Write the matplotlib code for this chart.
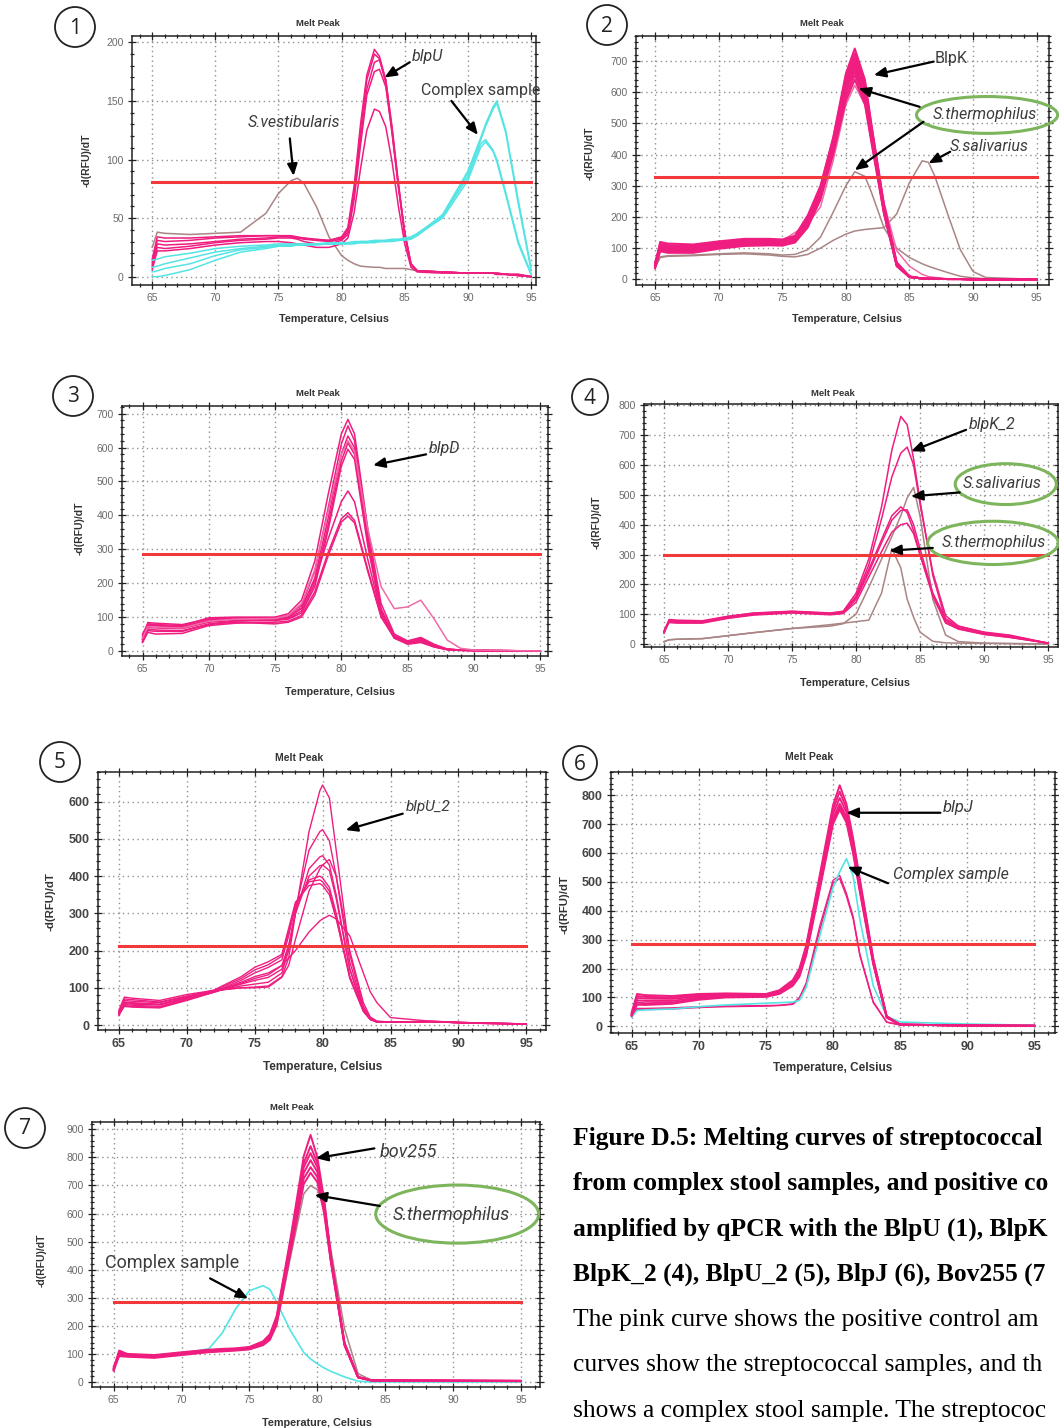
import matplotlib
matplotlib.use("Agg")
import matplotlib.pyplot as plt
from matplotlib.patches import Ellipse, Circle
from matplotlib.ticker import MultipleLocator

# ---------------- panel 1 : BlpU ----------------
t1 = [65, 65.4, 66, 68, 70, 72, 74, 75, 76, 76.5, 77, 78, 79, 80, 80.5, 81, 81.5, 82, 82.6, 83,
      83.5, 84, 84.5, 85, 85.5, 86, 88, 90, 91, 91.4, 92, 92.3, 93, 94, 95]
p1_blpu = [
    [15, 34, 33, 33, 34, 35, 35, 35, 34, 33, 33, 31, 31, 34, 42, 78, 130, 172, 194, 188, 168, 125, 78, 38, 11, 5, 4, 3, 3, 3, 3, 3, 2, 2, 0],
    [12, 31, 30, 31, 33, 34, 35, 35, 35, 34, 33, 32, 31, 33, 40, 74, 125, 168, 190, 186, 165, 122, 76, 36, 10, 5, 4, 3, 3, 3, 3, 3, 2, 2, 0],
    [10, 28, 27, 28, 30, 32, 33, 34, 34, 33, 32, 31, 30, 32, 38, 70, 118, 160, 183, 185, 168, 128, 80, 38, 11, 5, 4, 3, 3, 3, 3, 2, 2, 1, 0],
    [8, 25, 24, 26, 29, 31, 32, 33, 33, 32, 30, 28, 28, 31, 36, 66, 112, 155, 175, 177, 162, 124, 78, 36, 10, 5, 4, 3, 3, 3, 3, 2, 2, 1, 0],
    [6, 22, 22, 24, 27, 29, 30, 30, 29, 28, 27, 25, 25, 28, 33, 55, 92, 125, 143, 141, 128, 98, 60, 28, 8, 4, 3, 3, 3, 3, 3, 2, 2, 1, 0],
]
p1_vest = [25, 38, 37, 36, 37, 38, 54, 71, 82, 84, 80, 60, 34, 18, 14, 11, 9, 8.5, 8, 8, 7, 7, 7, 7, 6, 5, 4, 3, 3, 3, 3, 3, 2, 1, 0]
p1_complex = [
    [14, 15, 17, 20, 24, 26, 27, 28, 28, 28, 28, 28, 29, 29, 29, 30, 30, 30, 31, 31, 31, 32, 32, 33, 34, 37, 52, 85, 113, 117, 108, 100, 72, 30, 3],
    [8, 9, 11, 16, 21, 24, 26, 27, 27, 27, 28, 28, 28, 29, 29, 29, 30, 30, 30, 30, 31, 31, 31, 32, 33, 36, 50, 82, 110, 115, 107, 98, 70, 28, 2],
    [4, 5, 7, 11, 18, 23, 25, 26, 27, 27, 27, 28, 28, 28, 28, 29, 29, 29, 30, 30, 30, 31, 31, 32, 33, 36, 53, 90, 118, 130, 145, 150, 125, 65, 8],
    [0, 0, 1, 6, 14, 21, 24, 26, 26, 27, 27, 27, 28, 28, 28, 28, 29, 29, 29, 30, 30, 30, 31, 31, 32, 35, 51, 88, 116, 128, 143, 148, 123, 62, 6],
]
p1_thr = 80.8

# ---------------- panel 2 : BlpK ----------------
t2 = [65, 65.4, 66, 68, 70, 72, 74, 75, 76, 77, 78, 79, 80, 80.7, 81.5, 82, 83, 84, 85, 86,
      86.5, 87, 88, 89, 90, 91, 95]
p2_blpk = [
    [45, 120, 115, 112, 122, 130, 130, 128, 140, 205, 300, 455, 660, 740, 640, 500, 240, 55, 10, 3, 2, 2, 1, 1, 0, 0, 0],
    [50, 115, 110, 108, 118, 126, 127, 125, 136, 200, 295, 450, 650, 725, 630, 495, 235, 52, 9, 3, 2, 2, 1, 1, 0, 0, 0],
    [40, 110, 106, 104, 115, 123, 124, 122, 133, 195, 290, 445, 640, 712, 620, 485, 230, 50, 9, 3, 2, 2, 1, 1, 0, 0, 0],
    [55, 108, 102, 100, 112, 120, 122, 120, 130, 190, 285, 440, 630, 700, 612, 480, 225, 48, 8, 3, 2, 2, 1, 1, 0, 0, 0],
    [42, 104, 99, 97, 110, 118, 120, 118, 128, 186, 280, 432, 620, 690, 600, 470, 222, 46, 8, 3, 2, 2, 1, 1, 0, 0, 0],
    [48, 100, 95, 94, 107, 115, 117, 116, 125, 180, 272, 425, 610, 680, 590, 462, 218, 45, 8, 3, 2, 2, 1, 1, 0, 0, 0],
    [38, 96, 92, 91, 104, 112, 114, 113, 122, 176, 268, 418, 598, 668, 580, 455, 215, 44, 7, 3, 2, 2, 1, 1, 0, 0, 0],
    [44, 92, 88, 88, 101, 110, 112, 111, 120, 170, 262, 410, 585, 655, 570, 448, 212, 43, 7, 3, 2, 2, 1, 1, 0, 0, 0],
    [35, 90, 85, 85, 98, 107, 109, 108, 118, 166, 255, 400, 572, 640, 560, 440, 208, 42, 7, 3, 2, 2, 1, 1, 0, 0, 0],
]
p2_therm_a = [50, 100, 98, 100, 110, 118, 120, 125, 150, 178, 232, 380, 560, 622, 560, 450, 245, 92, 42, 16, 9, 6, 2, 1, 0, 0, 0]
p2_therm_b = [40, 72, 76, 78, 82, 85, 82, 78, 80, 95, 135, 215, 300, 345, 330, 280, 165, 100, 70, 50, 42, 35, 22, 10, 5, 2, 0]
p2_saliv = [38, 70, 74, 76, 80, 82, 78, 74, 72, 80, 100, 125, 145, 155, 160, 162, 166, 210, 310, 380, 375, 330, 210, 95, 25, 6, 0]
p2_thr = 327

# ---------------- panel 3 : BlpD ----------------
t3 = [65, 65.4, 66, 68, 70, 72, 75, 76, 77, 78, 79, 80, 80.5, 81, 82, 83, 84, 85, 86, 87, 88, 89, 90, 95]
p3_blpd = [
    [30, 80, 78, 75, 98, 100, 100, 110, 150, 265, 460, 640, 683, 640, 360, 140, 50, 30, 40, 20, 6, 3, 2, 0],
    [35, 84, 82, 78, 95, 98, 98, 105, 135, 235, 420, 610, 664, 620, 340, 125, 45, 28, 38, 18, 5, 3, 2, 0],
    [40, 76, 74, 70, 90, 95, 96, 100, 125, 215, 390, 580, 634, 600, 330, 120, 42, 25, 35, 16, 5, 3, 2, 0],
    [45, 70, 68, 66, 85, 90, 92, 96, 118, 200, 370, 560, 614, 580, 320, 115, 40, 24, 30, 14, 4, 3, 2, 0],
    [28, 65, 62, 60, 80, 88, 90, 94, 112, 190, 355, 545, 595, 565, 310, 112, 38, 22, 28, 12, 4, 2, 1, 0],
    [50, 80, 76, 72, 92, 96, 95, 100, 128, 210, 330, 440, 472, 440, 270, 110, 45, 25, 32, 15, 5, 3, 2, 0],
    [25, 55, 50, 52, 75, 82, 85, 88, 105, 175, 290, 390, 408, 385, 240, 105, 40, 22, 30, 14, 5, 2, 1, 0],
    [35, 60, 58, 58, 78, 85, 80, 85, 100, 165, 280, 380, 398, 378, 235, 100, 38, 20, 25, 12, 4, 2, 1, 0],
    [38, 72, 70, 68, 88, 94, 96, 105, 140, 240, 410, 580, 620, 590, 360, 190, 125, 130, 150, 95, 32, 8, 3, 0],
]
p3_thr = 287

# ---------------- panel 4 : BlpK_2 ----------------
t4 = [65, 65.4, 66, 68, 70, 72, 75, 78, 79, 80, 81, 82, 82.8, 83.5, 84, 84.5, 85, 86, 87, 88, 90, 92, 95]
p4_blpk2 = [
    [40, 82, 80, 78, 93, 104, 110, 104, 110, 170, 285, 460, 650, 763, 735, 620, 480, 230, 80, 55, 35, 25, 3],
    [38, 78, 76, 74, 90, 100, 108, 102, 106, 160, 265, 420, 560, 640, 660, 600, 470, 240, 95, 60, 38, 28, 3],
    [42, 80, 78, 76, 92, 103, 109, 103, 108, 155, 250, 350, 430, 460, 440, 380, 300, 160, 70, 50, 32, 22, 3],
    [36, 75, 73, 72, 88, 99, 106, 100, 104, 150, 240, 340, 415, 448, 450, 400, 320, 170, 75, 52, 33, 23, 3],
    [44, 72, 70, 70, 86, 97, 104, 98, 102, 140, 225, 310, 375, 400, 405, 370, 300, 170, 85, 60, 40, 30, 3],
]
p4_saliv = [8, 14, 16, 18, 28, 38, 52, 60, 68, 100, 190, 285, 360, 430, 490, 525, 430, 150, 30, 8, 3, 2, 0]
p4_therm = [8, 14, 16, 18, 28, 38, 52, 65, 70, 75, 80, 171, 320, 255, 150, 90, 40, 9, 4, 3, 2, 1, 0]
p4_thr = 297

# ---------------- panel 5 : BlpU_2 ----------------
t5 = [65, 65.4, 66, 68, 70, 72, 74, 75, 76, 77, 77.5, 78, 79, 79.8, 80, 80.5, 81, 82, 83, 83.5,
      84, 85, 88, 91, 95]
p5_blpu2 = [
    [30, 70, 68, 62, 78, 92, 100, 102, 105, 130, 180, 300, 520, 630, 645, 610, 470, 190, 50, 20, 10, 8, 10, 6, 3],
    [35, 62, 60, 56, 74, 90, 105, 110, 115, 140, 200, 310, 470, 520, 525, 495, 400, 170, 45, 18, 9, 8, 10, 6, 3],
    [25, 55, 53, 50, 70, 88, 110, 120, 128, 150, 210, 300, 420, 452, 455, 430, 350, 150, 40, 16, 8, 8, 9, 5, 3],
    [40, 75, 72, 66, 82, 93, 100, 100, 102, 128, 160, 230, 360, 420, 430, 445, 400, 200, 60, 22, 10, 8, 9, 5, 2],
    [32, 60, 58, 55, 73, 91, 112, 125, 135, 160, 215, 300, 400, 428, 430, 415, 340, 150, 42, 16, 8, 8, 9, 5, 3],
    [28, 52, 50, 48, 68, 89, 120, 140, 155, 175, 240, 320, 390, 400, 395, 370, 300, 130, 38, 15, 8, 8, 9, 5, 3],
    [38, 58, 56, 54, 72, 92, 125, 148, 162, 185, 250, 325, 385, 390, 385, 360, 290, 125, 36, 15, 8, 8, 9, 5, 3],
    [34, 66, 64, 60, 76, 94, 130, 155, 170, 190, 260, 330, 375, 380, 375, 350, 285, 130, 40, 16, 8, 8, 9, 5, 3],
    [30, 50, 48, 46, 66, 88, 115, 130, 140, 160, 180, 200, 250, 280, 285, 295, 285, 240, 140, 90, 60, 20, 10, 6, 3],
]
p5_thr = 213

# ---------------- panel 6 : BlpJ ----------------
t6 = [65, 65.4, 66, 68, 70, 72, 75, 76, 77, 77.5, 78, 79, 80, 80.5, 81, 81.5, 82, 83, 84, 85, 90, 95]
p6_blpj = [
    [48, 112, 108, 105, 112, 114, 112, 125, 160, 200, 280, 520, 765, 834, 770, 650, 510, 235, 35, 6, 3, 2],
    [45, 105, 102, 100, 108, 112, 110, 122, 155, 195, 272, 510, 750, 812, 755, 640, 500, 230, 34, 6, 3, 2],
    [42, 98, 96, 95, 104, 108, 108, 120, 150, 188, 265, 500, 735, 790, 740, 628, 490, 225, 33, 6, 3, 2],
    [40, 90, 88, 88, 100, 106, 106, 118, 148, 182, 258, 490, 720, 770, 725, 615, 480, 220, 32, 6, 3, 2],
    [38, 82, 80, 82, 96, 103, 104, 115, 145, 178, 250, 480, 710, 760, 715, 605, 472, 218, 31, 6, 3, 2],
    [36, 75, 74, 78, 92, 100, 102, 112, 140, 172, 245, 470, 700, 750, 705, 598, 465, 215, 30, 6, 3, 2],
]
p6_low = [
    [40, 62, 62, 64, 68, 70, 72, 73, 78, 100, 150, 345, 505, 522, 460, 380, 250, 85, 15, 5, 2, 1],
    [38, 58, 58, 60, 65, 68, 70, 72, 76, 95, 140, 330, 495, 512, 450, 372, 245, 82, 14, 5, 2, 1],
]
p6_complex = [32, 55, 57, 60, 68, 74, 80, 82, 84, 90, 135, 310, 480, 535, 580, 520, 370, 140, 35, 15, 8, 4]
p6_thr = 284

# ---------------- panel 7 : Bov255 ----------------
t7 = [65, 65.4, 66, 68, 70, 72, 73, 74, 75, 76, 76.5, 77, 78, 79, 79.5, 80, 80.5, 81, 82, 83, 84, 95]
p7_bov = [
    [45, 112, 100, 96, 106, 115, 118, 120, 125, 145, 170, 235, 505, 805, 880, 800, 650, 450, 140, 18, 6, 4],
    [50, 108, 98, 94, 104, 113, 116, 118, 123, 142, 165, 228, 495, 780, 840, 780, 640, 445, 138, 18, 6, 4],
    [42, 104, 96, 92, 102, 112, 114, 117, 122, 140, 162, 222, 485, 765, 815, 765, 630, 440, 136, 17, 6, 4],
    [55, 100, 94, 90, 100, 110, 113, 116, 120, 138, 158, 218, 475, 745, 790, 748, 620, 435, 134, 17, 6, 4],
    [40, 96, 92, 88, 98, 108, 111, 114, 118, 135, 155, 212, 465, 725, 765, 730, 610, 430, 132, 16, 5, 3],
    [48, 92, 90, 86, 96, 106, 109, 112, 116, 132, 150, 205, 455, 705, 745, 712, 600, 425, 130, 16, 5, 3],
]
p7_therm = [45, 98, 93, 90, 99, 108, 111, 114, 117, 130, 150, 200, 440, 670, 700, 685, 620, 470, 190, 30, 6, 3]
p7_complex = [45, 100, 95, 92, 102, 118, 175, 262, 325, 343, 330, 285, 185, 105, 82, 65, 50, 38, 18, 3, 0, 0]
p7_thr = 285

caption = [
    ("Figure D.5: Melting curves of streptococcal", "bold"),
    ("from complex stool samples, and positive co", "bold"),
    ("amplified by qPCR with the BlpU (1), BlpK", "bold"),
    ("BlpK_2 (4), BlpU_2 (5), BlpJ (6), Bov255 (7", "bold"),
    ("The pink curve shows the positive control am", "normal"),
    ("curves show the streptococcal samples, and th", "normal"),
    ("shows a complex stool sample. The streptococ", "normal"),
]

PINK = "#ef1d80"
LPINK = "#f06aa8"
BROWN = "#a98585"
CYAN = "#55e4e4"
RED = "#f2383a"
GREEN = "#7db55c"

W, H = 1059, 1428
fig = plt.figure(figsize=(W / 100, H / 100), dpi=100)
fig.patch.set_facecolor("white")


def P(x, y):
    return (x / 100.0, (H - y) / 100.0)


def ftext(x, y, s, **kw):
    fig.text(*P(x, y), s, transform=fig.dpi_scale_trans, **kw)


def panel(box, xlim, ylim, ystep, big=False):
    l, t, r, b = box
    ax = fig.add_axes([l / W, 1 - b / H, (r - l) / W, (b - t) / H])
    ax.set_xlim(xlim)
    ax.set_ylim(ylim)
    ax.xaxis.set_major_locator(MultipleLocator(5))
    ax.xaxis.set_minor_locator(MultipleLocator(1))
    ax.yaxis.set_major_locator(MultipleLocator(ystep))
    ax.yaxis.set_minor_locator(MultipleLocator(ystep / 5))
    ax.set_axisbelow(True)
    ax.grid(True, which="major", ls=(0, (1, 2.5)), color="#909090", lw=1.0)
    ax.tick_params(which="both", direction="inout", top=True, right=True,
                   width=0.9, color="#222222")
    ax.tick_params(which="major", length=6)
    ax.tick_params(which="minor", length=3.5)
    ax.tick_params(labelsize=9 if big else 7.5, labelcolor="#444444" if big else "#6a6a6a", pad=3)
    for lab in ax.get_xticklabels() + ax.get_yticklabels():
        lab.set_family("Liberation Sans")
        if big:
            lab.set_fontweight("bold")
    for s in ax.spines.values():
        s.set_linewidth(1.1)
        s.set_color("#222222")
    return ax


def lines(ax, t, ys, color, lw=1.1, z=2, alpha=1.0):
    for y in ys:
        ax.plot(t, y, color=color, lw=lw, zorder=z, alpha=alpha)


def thr(ax, t, value):
    ax.plot([t[0], t[-1]], [value, value], color=RED, lw=2.2, zorder=5)


def label(ax, x, y, s, size, italic=True):
    ax.text(x, y, s, ha="center", va="center", fontsize=size, family="Roboto",
            style="italic" if italic else "normal", color="#3c3c3c", zorder=8, clip_on=False)


def arrow(ax, tail, tip):
    ax.annotate("", xy=tip, xytext=tail, annotation_clip=False, zorder=9,
                arrowprops=dict(arrowstyle="-|>,head_length=0.7,head_width=0.3",
                                color="black", lw=1.6, shrinkA=0, shrinkB=0))


def oval(ax, x, y, w, h):
    ax.add_patch(Ellipse((x, y), w, h, fill=False, ec=GREEN, lw=2.2, zorder=7, clip_on=False))


def badge(x, y, r, s):
    fig.add_artist(Circle(P(x, y), r / 100.0, transform=fig.dpi_scale_trans,
                          fill=False, ec="#222222", lw=1.3))
    ftext(x, y + 1, s, ha="center", va="center", fontsize=15, family="Open Sans", color="#222222")


def decorate(title_xy, xlab_xy, ylab_xy, big=False):
    fs = 7.5 if big else 6.8
    ftext(*title_xy, "Melt Peak", ha="center", va="center", fontsize=fs, fontweight="bold",
          family="Liberation Sans", color="#333333")
    ftext(*xlab_xy, "Temperature, Celsius", ha="center", va="center", fontsize=fs + 1,
          fontweight="bold", family="Liberation Sans", color="#333333")
    ftext(*ylab_xy, "-d(RFU)/dT", ha="center", va="center", rotation=90, fontsize=fs + 0.7,
          fontweight="bold", family="Liberation Sans", color="#333333")


# ---- panel 1
ax = panel((132, 36, 536, 285), (63.4, 95.4), (-7.1, 205.4), 50)
ax.plot(t1, p1_vest, color=BROWN, lw=1.1, zorder=2)
lines(ax, t1, p1_blpu, PINK, z=3)
lines(ax, t1, p1_complex, CYAN, z=4)
thr(ax, t1, p1_thr)
label(ax, 86.8, 188, "blpU", 11.5)
arrow(ax, (85.4, 183), (83.4, 170))
label(ax, 76.2, 132, "S.vestibularis", 11.5)
arrow(ax, (75.9, 118), (76.2, 86))
label(ax, 91.0, 159, "Complex sample", 11.5, italic=False)
arrow(ax, (88.7, 150), (90.8, 121))
badge(75, 27, 20, "1")
decorate((318, 24), (334, 319), (87, 160))

# ---- panel 2
ax = panel((636, 36, 1049, 285), (63.5, 95.97), (-18, 780), 100)
ax.plot(t2, p2_saliv, color=BROWN, lw=1.1, zorder=2)
ax.plot(t2, p2_therm_b, color=BROWN, lw=1.1, zorder=2)
ax.plot(t2, p2_therm_a, color=LPINK, lw=1.1, zorder=2)
lines(ax, t2, p2_blpk, PINK, lw=1.4, z=3)
thr(ax, t2, p2_thr)
label(ax, 88.3, 708, "BlpK", 11.5, italic=False)
arrow(ax, (86.9, 698), (82.2, 655))
oval(ax, 91.1, 527, 11.1, 118)
label(ax, 90.9, 527, "S.thermophilus", 11.5)
arrow(ax, (85.8, 553), (81.0, 612))
arrow(ax, (86.1, 505), (80.7, 350))
label(ax, 91.3, 425, "S.salivarius", 11.5)
arrow(ax, (88.2, 409), (86.5, 372))
badge(607, 25, 20, "2")
decorate((822, 24), (847, 319), (590, 153))

# ---- panel 3
ax = panel((122, 406, 548, 656), (63.45, 95.6), (-14.7, 722.6), 100)
lines(ax, t3, p3_blpd[:-1], PINK, z=3)
ax.plot(t3, p3_blpd[-1], color=LPINK, lw=1.1, zorder=3)
thr(ax, t3, p3_thr)
label(ax, 87.8, 597, "blpD", 11.5)
arrow(ax, (86.4, 580), (82.4, 548))
badge(73, 396, 20, "3")
decorate((318, 394), (340, 692), (80, 528))

# ---- panel 4
ax = panel((644, 404, 1058, 647), (63.44, 95.78), (-10, 804.5), 100)
ax.plot(t4, p4_saliv, color=BROWN, lw=1.1, zorder=2)
ax.plot(t4, p4_therm, color=BROWN, lw=1.1, zorder=2)
lines(ax, t4, p4_blpk2, PINK, z=3)
thr(ax, t4, p4_thr)
label(ax, 90.6, 735, "blpK_2", 11.5)
arrow(ax, (88.6, 718), (84.3, 646))
oval(ax, 91.7, 536, 7.9, 137)
label(ax, 91.4, 537, "S.salivarius", 11.5)
arrow(ax, (88.1, 508), (84.3, 495))
oval(ax, 90.7, 339, 10.2, 145)
label(ax, 90.8, 339, "S.thermophilus", 11.5)
arrow(ax, (86.0, 322), (82.6, 313))
badge(590, 397, 18, "4")
decorate((833, 393), (855, 683), (597, 522))

# ---- panel 5
ax = panel((98, 772, 546, 1030), (63.46, 96.45), (-13.4, 680), 100, big=True)
lines(ax, t5, p5_blpu2, PINK, lw=1.0, z=3)
thr(ax, t5, p5_thr)
label(ax, 87.8, 585, "blpU_2", 11)
arrow(ax, (85.9, 568), (81.7, 524))
badge(60, 762, 20, "5")
decorate((299, 758), (323, 1067), (50, 902), big=True)

# ---- panel 6
ax = panel((611, 772, 1055, 1033), (63.46, 96.54), (-23, 880), 100, big=True)
lines(ax, t6, p6_low, PINK, lw=1.0, z=2)
ax.plot(t6, p6_complex, color=CYAN, lw=1.2, zorder=3)
lines(ax, t6, p6_blpj, PINK, lw=1.4, z=4)
thr(ax, t6, p6_thr)
label(ax, 89.3, 757, "blpJ", 12)
arrow(ax, (88.0, 739), (81.0, 739))
label(ax, 88.8, 524, "Complex sample", 11.5)
arrow(ax, (84.1, 495), (81.1, 552))
badge(580, 763, 17, "6")
decorate((809, 757), (833, 1068), (565, 905), big=True)

# ---- panel 7
ax = panel((92, 1122, 540, 1387), (63.4, 96.4), (-17.8, 926), 100)
ax.plot(t7, p7_complex, color=CYAN, lw=1.2, zorder=2)
ax.plot(t7, p7_therm, color=BROWN, lw=1.1, zorder=3)
lines(ax, t7, p7_bov, PINK, lw=1.4, z=4)
thr(ax, t7, p7_thr)
label(ax, 86.7, 820, "bov255", 13)
arrow(ax, (84.2, 832), (79.9, 797))
oval(ax, 90.3, 598, 12.0, 207)
label(ax, 89.9, 594, "S.thermophilus", 13)
arrow(ax, (84.6, 627), (79.8, 666))
label(ax, 69.3, 424, "Complex sample", 13, italic=False)
arrow(ax, (72.1, 369), (74.9, 297))
badge(25, 1128, 20, "7")
decorate((292, 1108), (317, 1423), (42, 1260))

# ---- caption (the page cuts it at the right edge; keep each line inside)
for i, (s, w) in enumerate(caption):
    ftext(573, 1145 + 45.3 * i, s, ha="left", va="baseline", fontsize=18.4,
          family="Liberation Serif", fontweight=w, color="black")

fig.savefig("out.png", dpi=100)
